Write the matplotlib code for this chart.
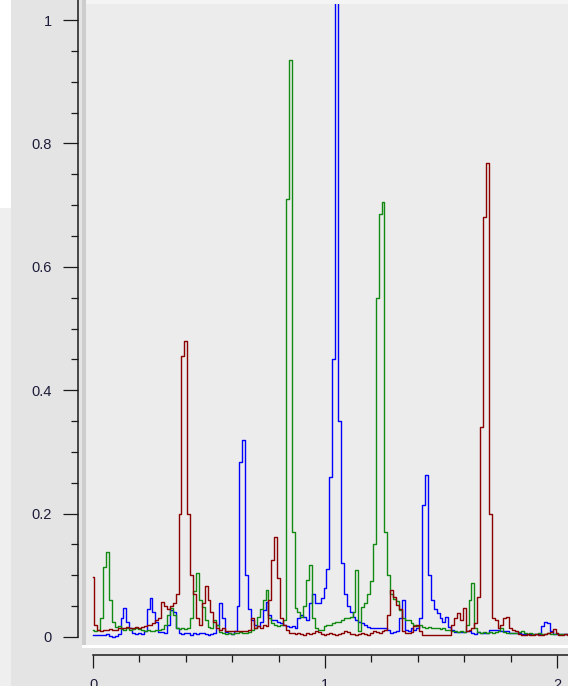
#!/usr/bin/env python3
"""Three overlaid spectra (red, green, blue channels) on a grey panel"""

## imports ##
import numpy as np
import matplotlib
matplotlib.use("Agg")
import matplotlib.pyplot as plt
from matplotlib.patches import Rectangle
from matplotlib.ticker import MultipleLocator, FixedLocator, FixedFormatter

# sampling step of the spectra (x units)
step = 0.0125

red = [
    0.097, 0.02, 0.012, 0.010, 0.012, 0.011, 0.013, 0.012, 0.012, 0.014,
    0.015, 0.014, 0.016, 0.015, 0.014, 0.016, 0.015, 0.016, 0.018, 0.02,
    0.02, 0.022, 0.028, 0.03, 0.057, 0.05, 0.045, 0.05, 0.055, 0.07,
    0.2, 0.455, 0.48, 0.2, 0.1, 0.07, 0.03, 0.02, 0.055, 0.083,
    0.06, 0.04, 0.025, 0.015, 0.012, 0.014, 0.01, 0.01, 0.009, 0.01,
    0.01, 0.009, 0.01, 0.01, 0.012, 0.03, 0.015, 0.018, 0.015, 0.02,
    0.018, 0.06, 0.125, 0.162, 0.095, 0.03, 0.02, 0.012, 0.007, 0.006,
    0.005, 0.006, 0.005, 0.004, 0.006, 0.005, 0.007, 0.01, 0.008, 0.005,
    0.004, 0.005, 0.006, 0.005, 0.004, 0.005, 0.006, 0.01, 0.008, 0.005,
    0.005, 0.004, 0.005, 0.006, 0.005, 0.004, 0.007, 0.01, 0.008, 0.006,
    0.009, 0.012, 0.035, 0.076, 0.065, 0.052, 0.045, 0.01, 0.007, 0.006,
    0.008, 0.018, 0.02, 0.01, 0.004, 0.003, 0.004, 0.003, 0.004, 0.003,
    0.003, 0.004, 0.003, 0.004, 0.02, 0.03, 0.039, 0.028, 0.047, 0.01,
    0.012, 0.015, 0.022, 0.065, 0.34, 0.68, 0.768, 0.2, 0.03, 0.028,
    0.015, 0.02, 0.03, 0.033, 0.015, 0.012, 0.01, 0.005, 0.004, 0.004,
    0.005, 0.004, 0.004, 0.005, 0.004, 0.004, 0.005, 0.006, 0.008, 0.013,
    0.006, 0.004, 0.004, 0.005, 0.004, 0.004,
]

green = [
    0.011, 0.010, 0.011, 0.03, 0.113, 0.138, 0.06, 0.025, 0.016, 0.018,
    0.013, 0.012, 0.014, 0.012, 0.013, 0.015, 0.013, 0.012, 0.01, 0.011,
    0.01, 0.01, 0.012, 0.011, 0.013, 0.02, 0.035, 0.047, 0.035, 0.015,
    0.013, 0.014, 0.013, 0.015, 0.03, 0.075, 0.104, 0.06, 0.048, 0.028,
    0.016, 0.015, 0.028, 0.02, 0.008, 0.006, 0.005, 0.006, 0.005, 0.007,
    0.006, 0.008, 0.007, 0.006, 0.008, 0.012, 0.015, 0.033, 0.045, 0.06,
    0.076, 0.03, 0.022, 0.02, 0.018, 0.02, 0.028, 0.71, 0.935, 0.17,
    0.047, 0.04, 0.033, 0.05, 0.092, 0.117, 0.03, 0.015, 0.012, 0.012,
    0.018, 0.02, 0.02, 0.022, 0.025, 0.025, 0.028, 0.03, 0.03, 0.033,
    0.04, 0.108, 0.01, 0.049, 0.055, 0.07, 0.09, 0.15, 0.55, 0.685,
    0.705, 0.17, 0.1, 0.07, 0.062, 0.058, 0.044, 0.03, 0.028, 0.027,
    0.022, 0.02, 0.018, 0.02, 0.016, 0.015, 0.016, 0.015, 0.014, 0.015,
    0.013, 0.014, 0.012, 0.012, 0.01, 0.009, 0.008, 0.01, 0.008, 0.02,
    0.06, 0.087, 0.015, 0.008, 0.007, 0.008, 0.007, 0.008, 0.007, 0.008,
    0.01, 0.015, 0.008, 0.007, 0.006, 0.007, 0.006, 0.008, 0.01, 0.006,
    0.005, 0.006, 0.005, 0.005, 0.006, 0.005, 0.005, 0.006, 0.005, 0.005,
    0.006, 0.005, 0.005, 0.005, 0.005, 0.005,
]

blue = [
    0.003, 0.003, 0.004, 0.003, 0.004, 0.005, 0.002, 0.0, 0.001, 0.005,
    0.03, 0.047, 0.024, 0.014, 0.007, 0.005, 0.006, 0.005, 0.01, 0.045,
    0.063, 0.04, 0.025, 0.008, 0.008, 0.007, 0.02, 0.044, 0.04, 0.015,
    0.006, 0.005, 0.007, 0.006, 0.004, 0.006, 0.005, 0.007, 0.006, 0.005,
    0.004, 0.005, 0.006, 0.02, 0.055, 0.03, 0.008, 0.006, 0.005, 0.01,
    0.05, 0.284, 0.32, 0.1, 0.045, 0.028, 0.02, 0.018, 0.025, 0.044,
    0.057, 0.035, 0.028, 0.028, 0.025, 0.022, 0.02, 0.018, 0.016, 0.017,
    0.015, 0.03, 0.035, 0.033, 0.028, 0.055, 0.07, 0.055, 0.055, 0.063,
    0.08, 0.11, 0.26, 0.45, 1.06, 0.35, 0.12, 0.07, 0.05, 0.04,
    0.033, 0.028, 0.025, 0.022, 0.02, 0.016, 0.015, 0.014, 0.014, 0.015,
    0.014, 0.014, 0.012, 0.006, 0.008, 0.01, 0.03, 0.06, 0.012, 0.01,
    0.015, 0.012, 0.015, 0.03, 0.214, 0.263, 0.1, 0.06, 0.045, 0.039,
    0.031, 0.024, 0.033, 0.016, 0.012, 0.008, 0.008, 0.008, 0.008, 0.01,
    0.01, 0.006, 0.005, 0.008, 0.006, 0.006, 0.006, 0.012, 0.012, 0.012,
    0.012, 0.01, 0.01, 0.01, 0.007, 0.007, 0.007, 0.007, 0.005, 0.005,
    0.005, 0.005, 0.005, 0.005, 0.005, 0.018, 0.024, 0.022, 0.01, 0.005,
    0.005, 0.005, 0.005, 0.005, 0.005, 0.005,
]

y_ticks = [0, 0.2, 0.4, 0.6, 0.8, 1.0]
y_labels = ["0", "0.2", "0.4", "0.6", "0.8", "1"]
x_ticks = [0, 1, 2]
x_labels = ["0", "1", "2"]


def main():
    W, H = 568, 686
    fig = plt.figure(figsize=(W / 100, H / 100), dpi=100, facecolor="#e4e4e4")

    # window chrome around the plot panel
    fig.patches.append(Rectangle((0, 1 - 208 / H), 11 / W, 208 / H,
                                 transform=fig.transFigure, color="white", lw=0))
    fig.patches.append(Rectangle((0, 0), 11 / W, 1 - 208 / H,
                                 transform=fig.transFigure, color="#efefef", lw=0))
    fig.patches.append(Rectangle((86 / W, 1 - 4 / H), 1, 4 / H,
                                 transform=fig.transFigure, color="#f4f4f4", lw=0))
    fig.patches.append(Rectangle((82 / W, 41 / H), 4 / W, 1,
                                 transform=fig.transFigure, color="#cdcdcd", lw=0))
    fig.patches.append(Rectangle((82 / W, 38 / H), 1, 3 / H,
                                 transform=fig.transFigure, color="white", lw=0))

    ax = fig.add_axes([86 / W, 41 / H, 482 / W, 641 / H], facecolor="#ececec")

    # spectra, drawn as steps
    for vals, col in [(blue, "#0000ff"), (green, "#138a13"), (red, "#8b0000")]:
        x = np.arange(len(vals)) * step
        ax.plot(x, vals, color=col, lw=1.0, drawstyle="steps-mid")

    ax.set_xlim(-0.0302, 2.0474)
    ax.set_ylim(-0.013, 1.026)

    for s in ["top", "right"]:
        ax.spines[s].set_visible(False)
    ax.spines["left"].set_position(("outward", 8 * 0.72))
    ax.spines["bottom"].set_position(("outward", 10 * 0.72))
    ax.spines["left"].set_bounds(0, 1.04)
    ax.spines["bottom"].set_bounds(0, 2.0474)
    for s in ["left", "bottom"]:
        ax.spines[s].set_color("#1a1a1a")
        ax.spines[s].set_linewidth(1.1)

    ax.yaxis.set_major_locator(FixedLocator(y_ticks))
    ax.yaxis.set_major_formatter(FixedFormatter(y_labels))
    ax.yaxis.set_minor_locator(MultipleLocator(0.05))
    ax.xaxis.set_major_locator(FixedLocator(x_ticks))
    ax.xaxis.set_major_formatter(FixedFormatter(x_labels))
    ax.xaxis.set_minor_locator(MultipleLocator(0.2))

    ax.tick_params(axis="y", which="major", direction="out", length=10.8,
                   width=0.9, color="#1a1a1a", pad=8, labelsize=10.5,
                   labelcolor="#1c1c3a")
    ax.tick_params(axis="y", which="minor", direction="out", length=5.4,
                   width=0.9, color="#1a1a1a")
    ax.tick_params(axis="x", which="major", direction="out", length=9.4,
                   width=0.9, color="#1a1a1a", pad=7, labelsize=10.5,
                   labelcolor="#1c1c3a")
    ax.tick_params(axis="x", which="minor", direction="out", length=5.0,
                   width=0.9, color="#1a1a1a")
    for lab in ax.get_xticklabels() + ax.get_yticklabels():
        lab.set_fontfamily("Liberation Sans")

    fig.savefig("out.png", dpi=100, facecolor=fig.get_facecolor())


if __name__ == "__main__":
    main()
